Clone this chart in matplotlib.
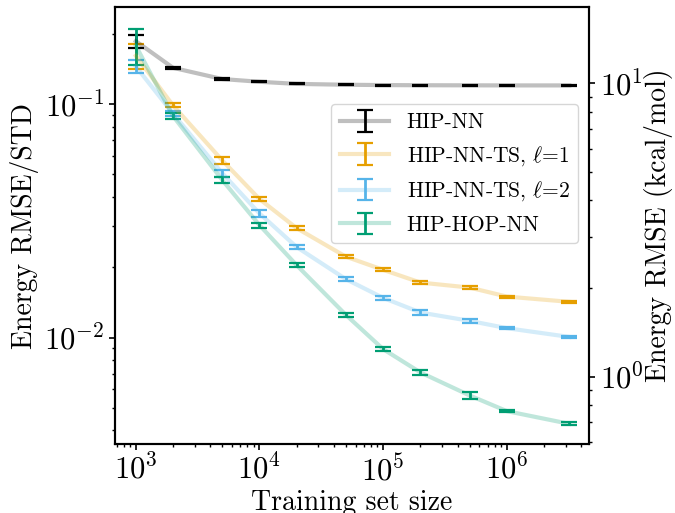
import matplotlib
matplotlib.use("Agg")
import matplotlib.pyplot as plt
import numpy as np

plt.rcParams['font.family'] = ['cmr10', 'DejaVu Serif']
plt.rcParams['mathtext.fontset'] = 'cm'
plt.rcParams['axes.formatter.use_mathtext'] = True
plt.rcParams['axes.unicode_minus'] = False

sizes = [1000, 2000, 5000, 10000, 20000, 50000, 100000, 200000, 500000, 1000000, 3200000]

hipnn = [0.186, 0.143, 0.128, 0.1246, 0.122, 0.121, 0.1206, 0.1204, 0.1203, 0.1202, 0.1202]
hipnn_err = [0.012, 0.0015, 0.0008, 0.0008, 0.0006, 0.0006, 0.0006, 0.0005, 0.0005, 0.0005, 0.0005]

ts1 = [0.161, 0.0987, 0.0574, 0.0392, 0.0294, 0.0222, 0.0195, 0.0172, 0.01637, 0.01498, 0.01422]
ts1_err = [0.019, 0.002, 0.002, 0.0008, 0.0005, 0.0003, 0.0003, 0.0002, 0.0002, 0.00015, 0.00012]

ts2 = [0.145, 0.091, 0.0506, 0.0340, 0.0244, 0.01778, 0.01479, 0.0128, 0.01179, 0.01097, 0.01006]
ts2_err = [0.009, 0.002, 0.0017, 0.0012, 0.0005, 0.0003, 0.0003, 0.0003, 0.0002, 0.0001, 0.0001]

hop = [0.178, 0.0889, 0.0473, 0.0303, 0.0204, 0.0125, 0.00892, 0.00709, 0.00565, 0.00484, 0.00427]
hop_err = [0.031, 0.003, 0.0015, 0.0008, 0.0004, 0.0003, 0.0002, 0.00015, 0.00022, 0.00006, 0.00006]

labels = ['HIP-NN', r'HIP-NN-TS, $\ell$=1', r'HIP-NN-TS, $\ell$=2', 'HIP-HOP-NN']
colors = ['black', '#E69F00', '#56B4E9', '#009E73']

fig = plt.figure(figsize=(6.75, 5.13), dpi=100)
ax = fig.add_axes([0.170, 0.1345, 0.703, 0.8515])

for y, e, c, lab in zip([hipnn, ts1, ts2, hop], [hipnn_err, ts1_err, ts2_err, hop_err], colors, labels):
    line, caps, bars = ax.errorbar(sizes, y, yerr=e, color=c, ecolor=c, lw=3,
                                   elinewidth=2, capsize=6, capthick=1.6, label=lab)
    line.set_alpha(0.25)

ax.set_xscale('log')
ax.set_yscale('log')
ax.set_xlim(676, 4.64e6)
ax.set_ylim(0.0035, 0.26)
ax.set_xlabel('Training set size', fontsize=20, labelpad=2)
ax.set_ylabel('Energy RMSE/STD', fontsize=20, labelpad=4)
ax.tick_params(which='major', labelsize=22, length=4, width=1.2, direction='out')
ax.tick_params(which='minor', length=2, width=1)
for s in ax.spines.values():
    s.set_linewidth(1.5)

ax2 = ax.twinx()
ax2.set_yscale('log')
ax2.set_ylim(0.59, 18.2)
ax2.set_ylabel('Energy RMSE (kcal/mol)', fontsize=20, labelpad=0)
ax2.tick_params(which='major', labelsize=22, length=4, width=1.2, direction='out')
ax2.tick_params(which='minor', length=2, width=1)
for s in ax2.spines.values():
    s.set_linewidth(1.5)

ax.legend(loc='upper right', bbox_to_anchor=(0.977, 0.778), borderaxespad=0,
          fontsize=15.5, handlelength=2.3, labelspacing=0.55)

fig.savefig('out.png', dpi=100)
